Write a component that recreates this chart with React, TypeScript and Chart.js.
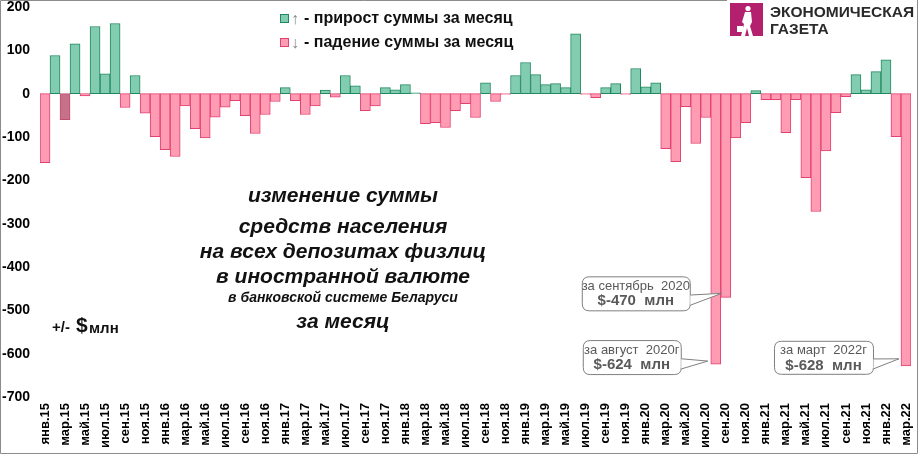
import React, { useEffect, useRef } from 'react';
import { Chart, registerables } from 'chart.js';

Chart.register(...registerables);

const MONTHS = ['янв', 'фев', 'мар', 'апр', 'май', 'июн', 'июл', 'авг', 'сен', 'окт', 'ноя', 'дек'];
const YEARS = ['15', '16', '17', '18', '19', '20', '21', '22'];

// monthly change, $ mln, Jan 2015 .. Mar 2022
const changes2015 = [-159, 88, -60, 115, -5, 155, 46, 162, -32, 42, -45, -99];
const changes2016 = [-129, -145, -28, -81, -102, -54, -31, -16, -51, -92, -48, -18];
const changes2017 = [14, -16, -48, -28, 8, -8, 42, 18, -39, -28, 14, 9];
const changes2018 = [21, 2, -69, -67, -78, -39, -23, -55, 25, -18, -2, 42];
const changes2019 = [72, 44, 21, 23, 14, 138, -2, -9, 14, 23, -2, 58];
const changes2020 = [16, 25, -127, -157, -30, -115, -55, -624, -470, -102, -67, 7];
const changes2021 = [-14, -14, -90, -14, -194, -272, -132, -44, -7, 44, 9, 51];
const changes2022 = [78, -99, -628];

const changes: number[] = [
  ...changes2015, ...changes2016, ...changes2017, ...changes2018,
  ...changes2019, ...changes2020, ...changes2021, ...changes2022,
];

const categories: string[] = [];
YEARS.forEach((y) => MONTHS.forEach((m) => categories.push(m + '.' + y)));
categories.length = changes.length;

const growth = changes.map((v) => (v > 0 ? v : null));
const decline = changes.map((v) => (v <= 0 ? v : null));
const highlightIndex = 2; // мар.15 drawn darker

const legendGrowth = '- прирост суммы за месяц';
const legendDecline = '- падение суммы за месяц';
const titleLines = [
  'изменение суммы',
  'средств населения',
  'на всех депозитах физлиц',
  'в иностранной валюте',
  'в банковской системе Беларуси',
  'за месяц',
];
const callouts = [
  { index: 68, value: -470, line1: 'за сентябрь  2020', line2: '$-470  млн' },
  { index: 67, value: -624, line1: 'за август  2020г', line2: '$-624  млн' },
  { index: 86, value: -628, line1: 'за март  2022г', line2: '$-628  млн' },
];

const FONT = '"Liberation Sans", Arial, sans-serif';
const GREEN_FILL = '#82cdb1';
const GREEN_BORDER = '#22885f';
const PINK_FILL = '#ff9bb3';
const PINK_BORDER = '#e2416f';

// layout of callout boxes relative to their pointer tips
const calloutLayout = [
  { dx: -32, w: 108, h: 34, dyTop: -17, tipDy: -4, tipDx: 1 },
  { dx: -27, w: 98, h: 34, dyTop: -21, tipDy: -3, tipDx: -3 },
  { dx: -26, w: 99, h: 33, dyTop: -18, tipDy: -7, tipDx: -2 },
];

function roundRect(ctx: CanvasRenderingContext2D, x: number, y: number, w: number, h: number, r: number) {
  ctx.beginPath();
  ctx.moveTo(x + r, y);
  ctx.lineTo(x + w - r, y);
  ctx.quadraticCurveTo(x + w, y, x + w, y + r);
  ctx.lineTo(x + w, y + h - r);
  ctx.quadraticCurveTo(x + w, y + h, x + w - r, y + h);
  ctx.lineTo(x + r, y + h);
  ctx.quadraticCurveTo(x, y + h, x, y + h - r);
  ctx.lineTo(x, y + r);
  ctx.quadraticCurveTo(x, y, x + r, y);
  ctx.closePath();
}

const overlay = {
  id: 'overlay',
  afterDraw(chart: any) {
    const ctx: CanvasRenderingContext2D = chart.ctx;
    const xs = chart.scales.x;
    const ys = chart.scales.y;
    ctx.save();

    // frame
    ctx.strokeStyle = '#8c8c8c';
    ctx.lineWidth = 1;
    ctx.beginPath();
    ctx.moveTo(727, 0.5);
    ctx.lineTo(0.5, 0.5);
    ctx.lineTo(0.5, 453.5);
    ctx.lineTo(917.5, 453.5);
    ctx.lineTo(917.5, 0);
    ctx.stroke();

    // logo
    ctx.fillStyle = '#b3206d';
    ctx.fillRect(730, 3, 33, 33);
    ctx.fillStyle = '#ffffff';
    ctx.beginPath();
    ctx.arc(748, 8.5, 2.6, 0, Math.PI * 2);
    ctx.fill();
    ctx.beginPath();
    ctx.moveTo(745, 12);
    ctx.lineTo(751, 12);
    ctx.lineTo(752, 22);
    ctx.lineTo(750, 26);
    ctx.lineTo(753, 36);
    ctx.lineTo(749, 36);
    ctx.lineTo(747, 28);
    ctx.lineTo(745, 36);
    ctx.lineTo(741, 36);
    ctx.lineTo(744, 24);
    ctx.lineTo(742, 22);
    ctx.closePath();
    ctx.fill();
    ctx.fillRect(737, 26, 6, 6);
    ctx.fillStyle = '#2a2a2a';
    ctx.font = `bold 15.5px ${FONT}`;
    ctx.textAlign = 'left';
    ctx.textBaseline = 'middle';
    ctx.fillText('ЭКОНОМИЧЕСКАЯ', 770, 13);
    ctx.fillText('ГАЗЕТА', 770, 30);

    // legend
    const legendRows = [
      { y: 19, fill: GREEN_FILL, border: GREEN_BORDER, arrow: '↑', text: legendGrowth },
      { y: 43, fill: PINK_FILL, border: PINK_BORDER, arrow: '↓', text: legendDecline },
    ];
    legendRows.forEach((r) => {
      ctx.fillStyle = r.fill;
      ctx.fillRect(280.5, r.y - 4.5, 8, 8);
      ctx.strokeStyle = r.border;
      ctx.strokeRect(280.5, r.y - 4.5, 8, 8);
      ctx.fillStyle = '#8a8a8a';
      ctx.font = `16px ${FONT}`;
      ctx.fillText(r.arrow, 291, r.y + 1);
      ctx.fillStyle = '#111';
      ctx.font = `bold 16px ${FONT}`;
      ctx.fillText(r.text, 304, r.y);
    });

    // title block
    ctx.textAlign = 'center';
    ctx.fillStyle = '#111';
    const ys0 = [196, 227, 252, 277, 298, 322];
    titleLines.forEach((t, i) => {
      ctx.font = i === 4 ? `italic bold 14px ${FONT}` : `italic bold 21px ${FONT}`;
      ctx.fillText(t, 343, ys0[i]);
    });

    // units
    ctx.textAlign = 'left';
    ctx.font = `bold 15px ${FONT}`;
    ctx.fillText('+/-', 52, 328);
    ctx.font = `bold 21px ${FONT}`;
    ctx.fillText('$', 76, 326);
    ctx.font = `bold 15px ${FONT}`;
    ctx.fillText('млн', 89, 329);

    // callouts
    callouts.forEach((c, k) => {
      const L = calloutLayout[k];
      const barLeft = xs.getPixelForValue(c.index) - 5;
      const tipX = barLeft + L.tipDx;
      const tipY = ys.getPixelForValue(c.value) + L.tipDy;
      const right = tipX + L.dx;
      const left = right - L.w;
      const top = tipY + L.dyTop;
      const h = L.h;
      ctx.fillStyle = '#ffffff';
      ctx.strokeStyle = '#7f7f7f';
      ctx.lineWidth = 1;
      roundRect(ctx, left + 0.5, top + 0.5, L.w, h, 7);
      ctx.fill();
      ctx.stroke();
      const b1 = top + h * 0.55;
      const b2 = top + h * 0.85;
      ctx.beginPath();
      ctx.moveTo(right + 0.5, b1);
      ctx.lineTo(tipX, tipY);
      ctx.lineTo(right + 0.5, b2);
      ctx.closePath();
      ctx.fillStyle = '#ffffff';
      ctx.fill();
      ctx.beginPath();
      ctx.moveTo(right + 0.5, b1);
      ctx.lineTo(tipX, tipY);
      ctx.lineTo(right + 0.5, b2);
      ctx.stroke();
      ctx.textAlign = 'center';
      ctx.fillStyle = '#595959';
      ctx.font = `13px ${FONT}`;
      ctx.fillText(c.line1, left + L.w / 2, top + 10);
      ctx.font = `bold 15px ${FONT}`;
      ctx.fillText(c.line2, left + L.w / 2, top + 25);
    });

    ctx.restore();
  },
};

export default function App() {
  const ref = useRef<HTMLCanvasElement>(null);

  useEffect(() => {
    document.body.style.margin = '0';
    document.body.style.overflow = 'hidden';
    const canvas = ref.current!;
    const chart = new Chart(canvas, {
      type: 'bar',
      data: {
        labels: categories,
        datasets: [
          {
            label: 'прирост суммы за месяц',
            data: growth as any,
            backgroundColor: GREEN_FILL,
            borderColor: GREEN_BORDER,
            borderWidth: 1,
            borderSkipped: false,
            barPercentage: 1,
            categoryPercentage: 1,
            grouped: false,
          } as any,
          {
            label: 'падение суммы за месяц',
            data: decline as any,
            backgroundColor: changes.map((_, i) => (i === highlightIndex ? '#c6708a' : PINK_FILL)),
            borderColor: changes.map((_, i) => (i === highlightIndex ? '#c24d70' : PINK_BORDER)),
            borderWidth: 1,
            borderSkipped: false,
            barPercentage: 1,
            categoryPercentage: 1,
            grouped: false,
          } as any,
        ],
      },
      options: {
        responsive: false,
        animation: false,
        layout: { padding: { top: 0, right: 8, left: 0, bottom: 0 } },
        plugins: {
          legend: { display: false },
          tooltip: { enabled: false },
        },
        scales: {
          x: {
            grid: { display: false, drawTicks: false },
            border: { display: false },
            ticks: {
              autoSkip: false,
              maxRotation: 90,
              minRotation: 90,
              padding: 6,
              color: '#000',
              font: { family: FONT, size: 13, weight: 'bold' },
              callback: (_v: any, i: number) => (i % 2 === 0 ? categories[i] : ''),
            },
            afterFit: (s: any) => {
              s.height = 58;
              s.paddingLeft = 0;
              s.paddingRight = 0;
            },
          },
          y: {
            min: -700,
            max: 200,
            grid: { display: false, drawTicks: false },
            border: { display: false },
            ticks: {
              stepSize: 100,
              padding: 10,
              color: '#000',
              font: { family: FONT, size: 14, weight: 'bold' },
            },
            afterFit: (s: any) => {
              s.width = 40;
              s.paddingTop = 7;
              s.paddingBottom = 0;
            },
          },
        },
      },
      plugins: [overlay],
    });
    return () => chart.destroy();
  }, []);

  return (
    <div style={{ width: 919, height: 455, background: '#fff' }}>
      <canvas ref={ref} width={919} height={455} style={{ display: 'block' }} />
    </div>
  );
}
